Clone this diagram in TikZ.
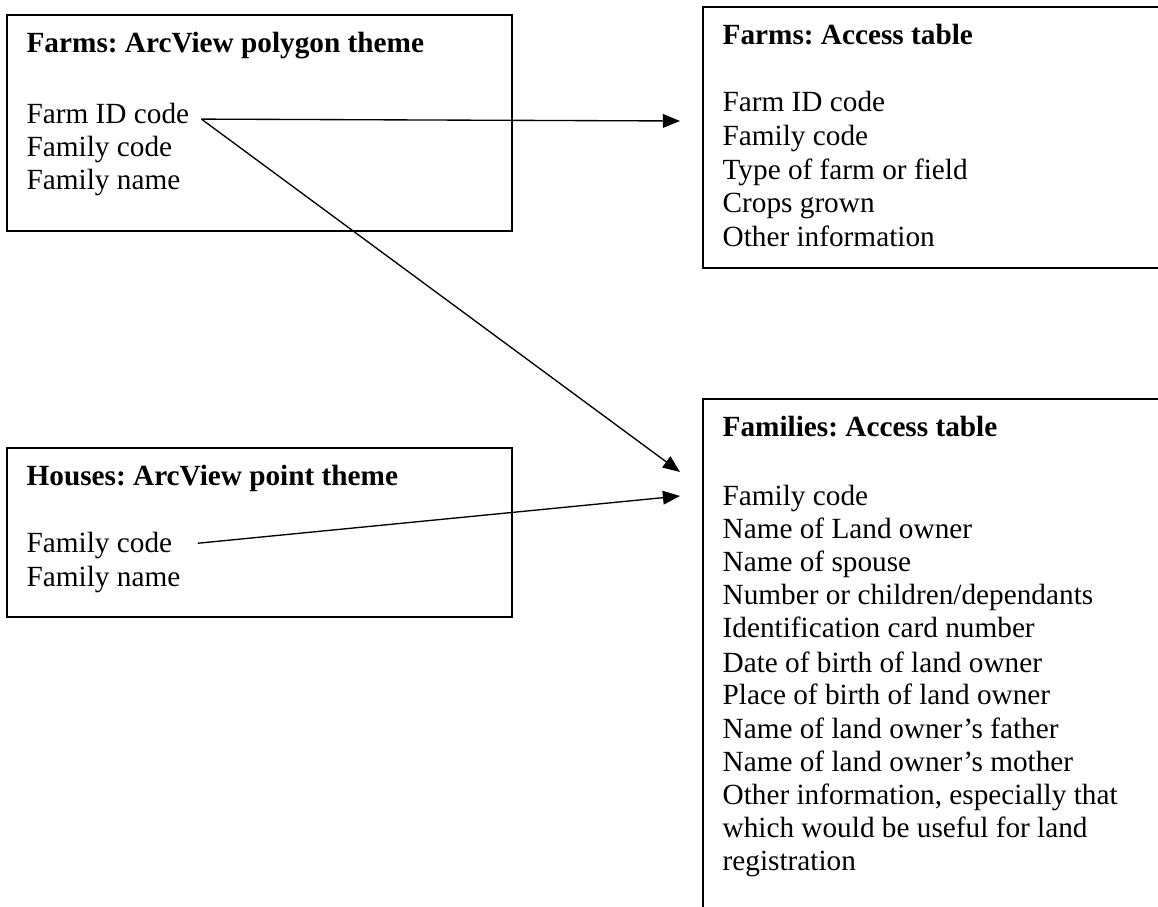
\documentclass[tikz,border=0pt]{standalone}
\usepackage{fontspec}
\setmainfont{Liberation Serif}
\usepackage{tikz}
\usetikzlibrary{arrows.meta, calc, positioning}
\frenchspacing

\tikzset{
    tbl/.style={line width=0.8pt},
    field/.style={anchor=base west, font=\fontsize{12pt}{13.8pt}\selectfont},
    head/.style={field, font=\fontsize{12pt}{13.8pt}\selectfont\bfseries},
    link/.style={line width=0.55pt, -{Triangle[length=7pt, width=5.6pt]}}
}

\begin{document}
\begin{tikzpicture}[x=0.41pt, y=-0.41pt]
    \useasboundingbox (0,0) rectangle (1158,907);
    \clip (0,0) rectangle (1158,907);

    % ArcView themes
    \draw[tbl] (7,15) rectangle (512,231);
    \node[head] (farmshead) at (18,53) {Farms: ArcView polygon theme};
    \node[field] (farmid) at (18,124) {Farm ID code};
    \node[field] (farmfam) at (18,157) {Family code};
    \node[field] (farmname) at (18,190) {Family name};

    \draw[tbl] (7,448) rectangle (512,617);
    \node[head] (househead) at (18,486) {Houses: ArcView point theme};
    \node[field] (housefam) at (18,553) {Family code};
    \node[field] (housename) at (18,587) {Family name};

    % Access tables
    \draw[tbl] (703,7) rectangle (1200,268);
    \node[head] (acchead) at (714,45) {Farms: Access table};
    \node[field] (accid) at (714,112) {Farm ID code};
    \node[field] (accfam) at (714,146) {Family code};
    \node[field] (acctype) at (714,180) {Type of farm or field};
    \node[field] (acccrops) at (714,213) {Crops grown};
    \node[field] (accother) at (714,247) {Other information};

    \draw[tbl] (703,399) rectangle (1200,960);
    \node[head] (famhead) at (714,437) {Families: Access table};
    \node[field] (famcode) at (714,506) {Family code};
    \node[field] (famowner) at (714,539) {Name of Land owner};
    \node[field] (famspouse) at (714,572) {Name of spouse};
    \node[field] (famkids) at (714,605) {Number or children/dependants};
    \node[field] (famcard) at (714,638) {Identification card number};
    \node[field] (famdob) at (714,672) {Date of birth of land owner};
    \node[field] (fampob) at (714,705) {Place of birth of land owner};
    \node[field] (famfather) at (714,738) {Name of land owner’s father};
    \node[field] (fammother) at (714,771) {Name of land owner’s mother};
    \node[field] (famother) at (714,804) {Other information, especially that};
    \node[field] (famwhich) at (714,837) {which would be useful for land};
    \node[field] (famreg) at (714,870) {registration};

    % links
    \coordinate (accin) at (680,121);
    \coordinate (famin) at (680,472);
    \coordinate (housein) at (680,496);
    \coordinate (farmout) at ([shift={(1.5pt,2pt)}]farmid.base east);
    \coordinate (houseout) at ([shift={(7pt,4pt)}]housefam.base east);

    \draw[link] (farmout) -- (accin);
    \draw[link] (farmout) -- (famin);
    \draw[link] (houseout) -- (housein);
\end{tikzpicture}
\end{document}
